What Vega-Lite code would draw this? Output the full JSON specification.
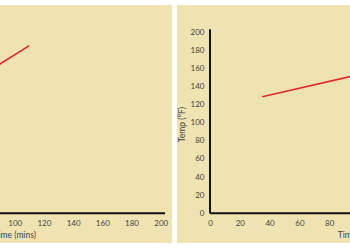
{
  "$schema": "https://vega.github.io/schema/vega-lite/v6.json",
  "background": "white",
  "padding": {"left": 0, "right": 0, "top": 5, "bottom": 7},
  "spacing": 5,
  "config": {
    "view": {"stroke": null, "fill": "#efe3b1"},
    "axis": {"labelFont": "Lato", "labelFontSize": 8, "labelColor": "#444", "labelOverlap": false, "titleFont": "Lato", "titleFontSize": 8.5, "titleColor": "#444", "titleFontWeight": "normal", "grid": false, "ticks": false, "domain": false}
  },
  "hconcat": [
    {
      "width": 172,
      "height": 238,
      "layer": [
        {
          "data": {"values": [{"time": 0, "temp": 74}, {"time": 110, "temp": 185}]},
          "mark": {"type": "line", "color": "#e0282a", "strokeWidth": 1.6, "clip": true},
          "encoding": {
            "x": {"field": "time", "type": "quantitative", "scale": {"domain": [89.93, 207.73], "nice": false, "zero": false},
              "axis": {"values": [100, 120, 140, 160, 180, 200], "offset": -29.7, "labelPadding": 6, "title": null}},
            "y": {"field": "temp", "type": "quantitative", "scale": {"domain": [-32.75, 229.8], "nice": false, "zero": false}, "axis": null}
          }
        },
        {
          "data": {"values": [{"k": 1}]},
          "mark": {"type": "rule", "color": "#111", "strokeWidth": 2, "clip": true},
          "encoding": {
            "x": {"datum": 0, "type": "quantitative", "scale": {"domain": [89.93, 207.73], "nice": false, "zero": false},
              "axis": {"values": [100, 120, 140, 160, 180, 200], "offset": -29.7, "labelPadding": 6, "title": null}},
            "x2": {"datum": 203},
            "y": {"datum": 0, "type": "quantitative", "scale": {"domain": [-32.75, 229.8], "nice": false, "zero": false}, "axis": null}
          }
        },
        {
          "data": {"values": [{"label": "Time (mins)"}]},
          "mark": {"type": "text", "font": "Lato", "fontSize": 8.5, "color": "#444", "align": "center", "baseline": "middle", "clip": true},
          "encoding": {
            "text": {"field": "label"},
            "x": {"datum": 100, "type": "quantitative", "scale": {"domain": [89.93, 207.73], "nice": false, "zero": false},
              "axis": {"values": [100, 120, 140, 160, 180, 200], "offset": -29.7, "labelPadding": 6, "title": null}},
            "y": {"datum": -23.9, "type": "quantitative", "scale": {"domain": [-32.75, 229.8], "nice": false, "zero": false}, "axis": null}
          }
        }
      ]
    },
    {
      "width": 173,
      "height": 238,
      "layer": [
        {
          "data": {"values": [{"time": 35, "temp": 128.6}, {"time": 120, "temp": 160.5}]},
          "mark": {"type": "line", "color": "#e0282a", "strokeWidth": 1.6, "clip": true},
          "encoding": {
            "x": {"field": "time", "type": "quantitative", "scale": {"domain": [-22.15, 93.96], "nice": false, "zero": false},
              "axis": {"values": [0, 20, 40, 60, 80], "offset": -29.7, "labelPadding": 6, "title": null}},
            "y": {"field": "temp", "type": "quantitative", "scale": {"domain": [-32.75, 229.8], "nice": false, "zero": false},
              "axis": {"values": [0, 20, 40, 60, 80, 100, 120, 140, 160, 180, 200], "offset": -34, "labelPadding": 7, "title": "Temp (°F)", "titlePadding": 4}}
          }
        },
        {
          "data": {"values": [{"k": 1}]},
          "mark": {"type": "rule", "color": "#111", "strokeWidth": 2, "clip": true},
          "encoding": {
            "x": {"datum": 0, "type": "quantitative", "scale": {"domain": [-22.15, 93.96], "nice": false, "zero": false},
              "axis": {"values": [0, 20, 40, 60, 80], "offset": -29.7, "labelPadding": 6, "title": null}},
            "x2": {"datum": 203},
            "y": {"datum": 0, "type": "quantitative", "scale": {"domain": [-32.75, 229.8], "nice": false, "zero": false},
              "axis": {"values": [0, 20, 40, 60, 80, 100, 120, 140, 160, 180, 200], "offset": -34, "labelPadding": 7, "title": "Temp (°F)", "titlePadding": 4}}
          }
        },
        {
          "data": {"values": [{"k": 1}]},
          "mark": {"type": "rule", "color": "#111", "strokeWidth": 2, "clip": true},
          "encoding": {
            "x": {"datum": 0, "type": "quantitative", "scale": {"domain": [-22.15, 93.96], "nice": false, "zero": false},
              "axis": {"values": [0, 20, 40, 60, 80], "offset": -29.7, "labelPadding": 6, "title": null}},
            "y": {"datum": 0, "type": "quantitative", "scale": {"domain": [-32.75, 229.8], "nice": false, "zero": false},
              "axis": {"values": [0, 20, 40, 60, 80, 100, 120, 140, 160, 180, 200], "offset": -34, "labelPadding": 7, "title": "Temp (°F)", "titlePadding": 4}},
            "y2": {"datum": 203}
          }
        },
        {
          "data": {"values": [{"label": "Time (mins)"}]},
          "mark": {"type": "text", "font": "Lato", "fontSize": 8.5, "color": "#444", "align": "center", "baseline": "middle", "clip": true},
          "encoding": {
            "text": {"field": "label"},
            "x": {"datum": 100, "type": "quantitative", "scale": {"domain": [-22.15, 93.96], "nice": false, "zero": false},
              "axis": {"values": [0, 20, 40, 60, 80], "offset": -29.7, "labelPadding": 6, "title": null}},
            "y": {"datum": -23.9, "type": "quantitative", "scale": {"domain": [-32.75, 229.8], "nice": false, "zero": false},
              "axis": {"values": [0, 20, 40, 60, 80, 100, 120, 140, 160, 180, 200], "offset": -34, "labelPadding": 7, "title": "Temp (°F)", "titlePadding": 4}}
          }
        }
      ]
    }
  ]
}
